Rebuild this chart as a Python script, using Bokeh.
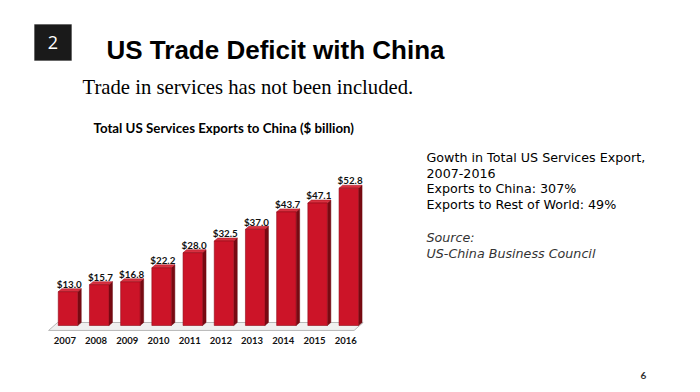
from bokeh.plotting import figure
from bokeh.models import Range1d, Label, BoxAnnotation, ColumnDataSource
from bokeh.core.properties import value
from bokeh.embed import file_html
from bokeh.resources import INLINE

# ---- data ----
years = ["2007", "2008", "2009", "2010", "2011", "2012", "2013", "2014", "2015", "2016"]
exports = [13.0, 15.7, 16.8, 22.2, 28.0, 32.5, 37.0, 43.7, 47.1, 52.8]
value_labels = ["$13.0", "$15.7", "$16.8", "$22.2", "$28.0", "$32.5", "$37.0", "$43.7", "$47.1", "$52.8"]
slide_title = "US Trade Deficit with China"
slide_number_box = "2"
subtitle = "Trade in services has not been included."
chart_title = "Total US Services Exports to China ($ billion)"
note_lines = ["Gowth in Total US Services Export,", "2007-2016",
              "Exports to China: 307%", "Exports to Rest of World: 49%"]
source_lines = ["Source:", "US-China Business Council"]
page_number = "6"

W, H = 692, 384
px_per_cat = 31.2
px_per_unit = 2.6
x0_px = 67.5      # canvas x of first bar centre
base_px = 325     # canvas y (from top) of baseline

xs = -x0_px / px_per_cat
ys = -(H - base_px) / px_per_unit
p = figure(width=W, height=H, output_backend="svg", toolbar_location=None,
           x_range=Range1d(xs, xs + W / px_per_cat),
           y_range=Range1d(ys, ys + H / px_per_unit),
           x_axis_location=None, y_axis_location=None, min_border=0)
p.outline_line_color = None
p.grid.visible = False
p.background_fill_color = "white"
p.border_fill_color = "white"

n = len(years)
idx = list(range(n))
bw = 0.625
dx = 3.5 / px_per_cat
dy = 3.0 / px_per_unit

# floor
p.patch([-bw / 2 - 0.31, -bw / 2 - 0.02, n - 1 + 0.46, n - 1 + 0.17],
        [-1.9, 1.15, 1.15, -1.9],
        fill_color="#f0f0f0", line_color="#b8b8b8", line_width=1)

# side faces
side_x = [[i + bw / 2, i + bw / 2 + dx, i + bw / 2 + dx, i + bw / 2] for i in idx]
side_y = [[0, dy, v + dy, v] for v in exports]
p.patches(side_x, side_y, fill_color="#780a12", line_color="#6a0810", line_width=0.5)
# top faces
top_x = [[i - bw / 2, i + bw / 2, i + bw / 2 + dx, i - bw / 2 + dx] for i in idx]
top_y = [[v, v, v + dy, v + dy] for v in exports]
p.patches(top_x, top_y, fill_color="#d83040", line_color="#a0101a", line_width=0.5)
# front faces
src = ColumnDataSource(dict(x=idx, top=exports, lab=value_labels, yr=years,
                            ly=[v + 3.0 for v in exports],
                            lx=[i + 0.04 for i in idx], yx=[i - 0.1 for i in idx],
                            yy=[-5.8] * n))
p.vbar(x="x", top="top", bottom=0, width=bw, source=src,
       fill_color="#cc1428", line_color="#900a18", line_width=0.6)

p.text(x="lx", y="ly", text="lab", source=src, text_font=value("Lato"),
       text_font_style="bold", text_font_size="9.8px", text_align="center",
       text_baseline="middle", text_color="#111111")
p.text(x="yx", y="yy", text="yr", source=src, text_font=value("Lato"),
       text_font_style="bold", text_font_size="9.5px", text_align="center",
       text_baseline="middle", text_color="#111111")

def lab(text, x, y_top, **kw):
    p.add_layout(Label(x=x, y=H - y_top, x_units="screen", y_units="screen",
                       text=text, **kw))

# slide number box
p.add_layout(BoxAnnotation(left=34, right=71, top=H - 24, bottom=H - 60,
                           left_units="screen", right_units="screen",
                           top_units="screen", bottom_units="screen",
                           fill_color="#1a1a1a", fill_alpha=1, line_color="#1a1a1a"))
lab(slide_number_box, 52.5, 42, text_font="Open Sans", text_font_size="18px",
    text_color="white", text_align="center", text_baseline="middle")
lab(slide_title, 106, 49, text_font="Liberation Sans", text_font_style="bold",
    text_font_size="26px", text_color="black", text_baseline="alphabetic")
lab(subtitle, 82, 86, text_font="Liberation Serif", text_font_size="20.7px",
    text_color="black", text_baseline="alphabetic")
lab(chart_title, 93, 127, text_font="Lato", text_font_style="bold",
    text_font_size="13.3px", text_color="black", text_baseline="alphabetic")

for k, t in enumerate(note_lines):
    lab(t, 426, 157 + 15.5 * k, text_font="DejaVu Sans", text_font_size="12.7px",
        text_color="black", text_baseline="alphabetic")
for k, t in enumerate(source_lines):
    lab(t, 426, 237 + 15.5 * k, text_font="DejaVu Sans", text_font_style="italic",
        text_font_size="12.7px", text_color="#333333", text_baseline="alphabetic")

lab(page_number, 643, 375, text_font="Lato", text_font_style="bold",
    text_font_size="10px", text_color="#333333", text_align="center",
    text_baseline="middle")

open("out.html", "w").write(file_html(p, INLINE))
